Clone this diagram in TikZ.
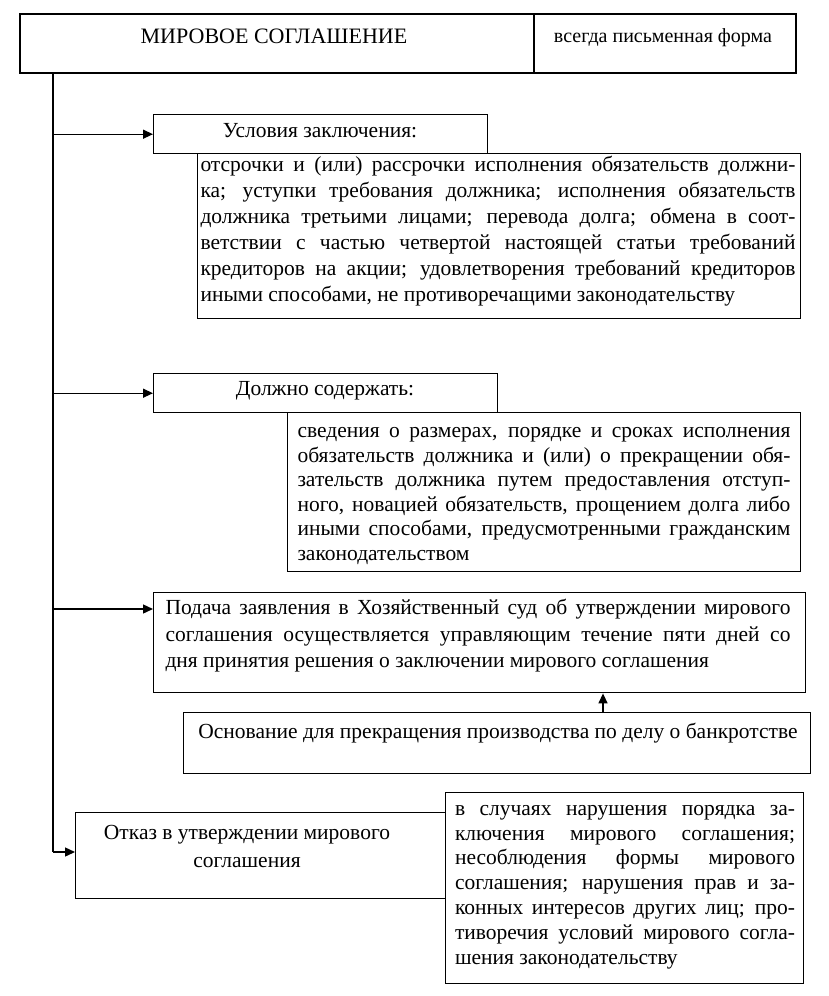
\documentclass[tikz,border=0pt]{standalone}
\usepackage{fontspec}
\setmainfont{Liberation Serif}
\usetikzlibrary{arrows.meta}
\newcommand\jl[2]{\makebox[#1pt][s]{#2}}
\newcommand\jn[2]{\makebox[#1pt][l]{#2}}
\begin{document}
\begin{tikzpicture}[x=1pt,y=-1pt,
  box/.style={draw, line width=1.4pt, inner sep=0pt, anchor=north west},
  txt/.style={inner sep=0pt, align=left, font=\fontsize{21.5}{25.5}\selectfont},
  ctxt/.style={inner sep=0pt, align=center, font=\fontsize{21.5}{28}\selectfont},
  arr/.style={line width=1.4pt, -{Triangle[length=10pt,width=9pt]}},
  trunkline/.style={line width=1.4pt}]
\useasboundingbox[fill=white] (0,0) rectangle (828,996);

% top
\node[box, line width=1.8pt, minimum width=514pt, minimum height=59pt] (top) at (19,13) {};
\node[box, line width=1.8pt, minimum width=262pt, minimum height=59pt] (form) at (533,13) {};
\node[ctxt, font=\fontsize{22}{24}\selectfont] (topt) at (274,36) {МИРОВОЕ СОГЛАШЕНИЕ};
\node[ctxt, font=\fontsize{20}{22}\selectfont] (formt) at (663,38) {всегда письменная форма};

% boxes
\node[box, minimum width=334pt, minimum height=39pt] (b1) at (153,114) {};
\node[ctxt] (b1t) at (320,131) {Условия заключения:};
\node[box, minimum width=603pt, minimum height=165pt] (t1) at (197,153) {};
\node[txt, font=\fontsize{21.5}{26}\selectfont] (t1t) at (498,231) {%
\jl{595}{отсрочки и (или) рассрочки исполнения обязательств должни-}\\
\jl{595}{ка; уступки требования должника; исполнения обязательств}\\
\jl{595}{должника третьими лицами; перевода долга; обмена в соот-}\\
\jl{595}{ветствии с частью четвертой настоящей статьи требований}\\
\jl{595}{кредиторов на акции; удовлетворения требований кредиторов}\\
\jn{595}{иными способами, не противоречащими законодательству}};

\node[box, minimum width=344pt, minimum height=39pt] (b2) at (153,373) {};
\node[ctxt] (b2t) at (325,391) {Должно содержать:};
\node[box, minimum width=513pt, minimum height=159pt] (t2) at (287,412) {};
\node[txt, font=\fontsize{21.5}{24.5}\selectfont] (t2t) at (544,496) {%
\jl{493}{сведения о размерах, порядке и сроках исполнения}\\
\jl{493}{обязательств должника и (или) о прекращении обя-}\\
\jl{493}{зательств должника путем предоставления отступ-}\\
\jl{493}{ного, новацией обязательств, прощением долга либо}\\
\jl{493}{иными способами, предусмотренными гражданским}\\
\jn{493}{законодательством}};

\node[box, minimum width=652pt, minimum height=100pt] (b3) at (153,592) {};
\node[txt, font=\fontsize{21.5}{26.5}\selectfont] (b3t) at (478,636) {%
\jl{625}{Подача заявления в Хозяйственный суд об утверждении мирового}\\
\jl{625}{соглашения осуществляется управляющим течение пяти дней со}\\
\jn{625}{дня принятия решения о заключении мирового соглашения}};

\node[box, minimum width=627pt, minimum height=61pt] (b4) at (183,712) {};
\node[txt] (b4t) at (498,733) {Основание для прекращения производства по делу о банкротстве};

\node[box, minimum width=370pt, minimum height=86pt] (b5) at (75,812) {};
\node[ctxt] (b5t) at (247,846) {Отказ в утверждении мирового\\соглашения};
\node[box, minimum width=358pt, minimum height=191pt] (t5) at (445,792) {};
\node[txt, font=\fontsize{21.5}{24.8}\selectfont] (t5t) at (625,887) {%
\jl{340}{в случаях нарушения порядка за-}\\
\jl{340}{ключения мирового соглашения;}\\
\jl{340}{несоблюдения формы мирового}\\
\jl{340}{соглашения; нарушения прав и за-}\\
\jl{340}{конных интересов других лиц; про-}\\
\jl{340}{тиворечия условий мирового согла-}\\
\jn{340}{шения законодательству}};

% connectors
\coordinate (trunktop) at (53,72);
\coordinate (trunkend) at (53,852);
\coordinate (a3) at (153,609);
\coordinate (up) at (603,0);
\draw[trunkline] (trunktop) -- (trunkend);
\draw[arr] (trunktop |- b1.west) -- (b1.west);
\draw[arr] (trunktop |- b2.west) -- (b2.west);
\draw[arr] (trunktop |- a3) -- (a3);
\draw[arr] (trunkend) -- (b5.west |- trunkend);
\draw[arr] (up |- b4.north) -- (up |- b3.south);
\end{tikzpicture}
\end{document}
